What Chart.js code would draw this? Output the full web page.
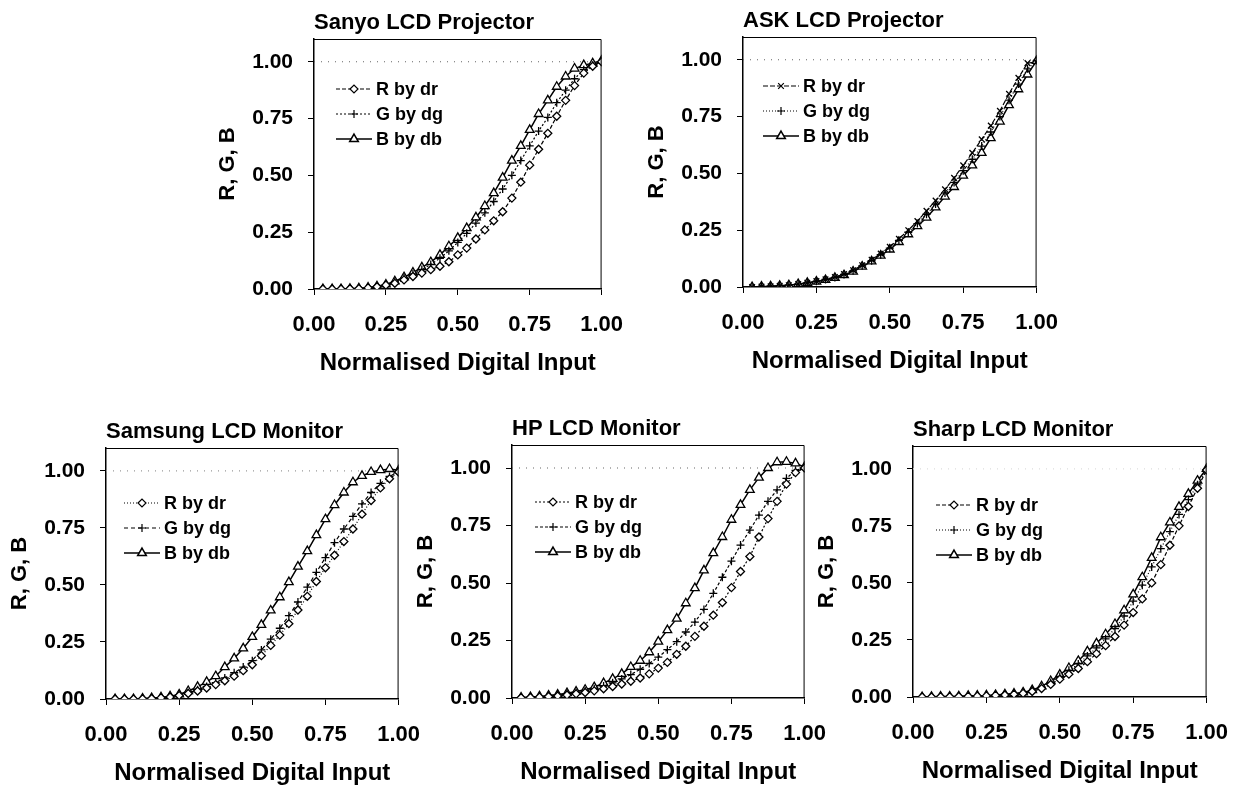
<!DOCTYPE html>
<html lang="en">
<head>
<meta charset="UTF-8">
<title>Display characterisation curves</title>
<script src="https://cdn.jsdelivr.net/npm/chart.js"></script>
<style>
    html, body { margin: 0; padding: 0; background: #fff; overflow: hidden; }
    body { width: 1249px; height: 789px; position: relative; }
    .panel { position: absolute; }
</style>
</head>
<body>
<div id="charts"></div>
<script>
    // normalised digital input (32 levels)
    const inputLevels = [0.031, 0.063, 0.094, 0.125, 0.156, 0.188, 0.219, 0.250, 0.281, 0.313, 0.344, 0.375,
        0.406, 0.438, 0.469, 0.500, 0.531, 0.563, 0.594, 0.625, 0.656, 0.688, 0.719, 0.750,
        0.781, 0.813, 0.844, 0.875, 0.906, 0.938, 0.969, 1.000];
    const tickValues = [0, 0.25, 0.5, 0.75, 1.0];
    const whiteX = [0, 1];
    const whiteLevel = [1, 1];
    const seriesLabels = ['R by dr', 'G by dg', 'B by db'];

    // Sanyo LCD Projector
    const sanyoR = [0, 0, 0, 0.001, 0.002, 0.005, 0.010, 0.017, 0.025, 0.040, 0.055, 0.070, 0.085, 0.100, 0.120, 0.150,
        0.180, 0.220, 0.260, 0.300, 0.340, 0.400, 0.470, 0.545, 0.615, 0.685, 0.760, 0.830, 0.895, 0.950, 0.980, 1.000];
    const sanyoG = [0, 0, 0, 0.001, 0.002, 0.005, 0.011, 0.019, 0.032, 0.048, 0.066, 0.086, 0.108, 0.135, 0.168, 0.205,
        0.245, 0.290, 0.335, 0.385, 0.440, 0.500, 0.565, 0.630, 0.695, 0.755, 0.820, 0.875, 0.925, 0.965, 0.985, 1.000];
    const sanyoB = [0, 0, 0, 0.001, 0.003, 0.006, 0.012, 0.020, 0.034, 0.052, 0.072, 0.095, 0.118, 0.150, 0.188, 0.225,
        0.268, 0.315, 0.365, 0.422, 0.490, 0.565, 0.630, 0.700, 0.770, 0.830, 0.890, 0.935, 0.970, 0.985, 0.993, 1.005];

    // ASK LCD Projector
    const askR = [0, 0.002, 0.003, 0.005, 0.008, 0.013, 0.019, 0.026, 0.034, 0.044, 0.057, 0.074, 0.096, 0.120, 0.147, 0.177,
        0.212, 0.250, 0.290, 0.335, 0.380, 0.430, 0.480, 0.535, 0.590, 0.650, 0.710, 0.775, 0.850, 0.920, 0.985, 0.990];
    const askG = [0, 0.002, 0.003, 0.005, 0.008, 0.013, 0.018, 0.025, 0.033, 0.042, 0.055, 0.071, 0.093, 0.116, 0.142, 0.171,
        0.205, 0.241, 0.279, 0.320, 0.365, 0.414, 0.460, 0.512, 0.562, 0.620, 0.682, 0.750, 0.822, 0.893, 0.960, 0.995];
    const askB = [0, 0.002, 0.003, 0.005, 0.008, 0.013, 0.018, 0.024, 0.031, 0.040, 0.052, 0.068, 0.090, 0.113, 0.138, 0.165,
        0.198, 0.232, 0.268, 0.305, 0.350, 0.398, 0.440, 0.490, 0.535, 0.590, 0.655, 0.728, 0.800, 0.870, 0.935, 0.995];

    // Samsung LCD Monitor
    const samsungR = [0, 0, 0, 0.001, 0.002, 0.005, 0.009, 0.015, 0.024, 0.035, 0.048, 0.063, 0.080, 0.100, 0.124, 0.150,
        0.190, 0.235, 0.280, 0.330, 0.390, 0.450, 0.515, 0.575, 0.630, 0.690, 0.745, 0.810, 0.870, 0.925, 0.965, 0.995];
    const samsungG = [0, 0, 0, 0.001, 0.003, 0.006, 0.010, 0.017, 0.027, 0.040, 0.055, 0.072, 0.092, 0.115, 0.140, 0.168,
        0.215, 0.262, 0.310, 0.365, 0.425, 0.490, 0.555, 0.620, 0.685, 0.745, 0.800, 0.855, 0.905, 0.945, 0.975, 0.998];
    const samsungB = [0, 0, 0, 0.002, 0.004, 0.007, 0.012, 0.020, 0.035, 0.053, 0.075, 0.100, 0.140, 0.178, 0.222, 0.272,
        0.325, 0.388, 0.446, 0.512, 0.580, 0.648, 0.718, 0.788, 0.850, 0.905, 0.950, 0.978, 0.995, 1.003, 1.008, 1.002];

    // HP LCD Monitor
    const hpR = [0.001, 0.002, 0.004, 0.006, 0.009, 0.013, 0.018, 0.024, 0.031, 0.040, 0.050, 0.061, 0.073, 0.087, 0.105, 0.130,
        0.155, 0.190, 0.225, 0.268, 0.312, 0.360, 0.415, 0.480, 0.550, 0.615, 0.700, 0.780, 0.855, 0.930, 0.980, 1.000];
    const hpG = [0.001, 0.003, 0.005, 0.008, 0.012, 0.017, 0.023, 0.030, 0.040, 0.052, 0.066, 0.083, 0.102, 0.125, 0.150, 0.178,
        0.210, 0.245, 0.287, 0.330, 0.385, 0.455, 0.525, 0.595, 0.665, 0.730, 0.795, 0.855, 0.905, 0.955, 0.990, 1.000];
    const hpB = [0.002, 0.004, 0.007, 0.011, 0.015, 0.021, 0.028, 0.036, 0.047, 0.065, 0.083, 0.105, 0.135, 0.162, 0.199, 0.245,
        0.295, 0.345, 0.412, 0.478, 0.555, 0.630, 0.700, 0.775, 0.840, 0.905, 0.958, 1.000, 1.025, 1.027, 1.020, 1.005];

    // Sharp LCD Monitor
    const sharpR = [0, 0, 0.001, 0.001, 0.002, 0.003, 0.004, 0.005, 0.007, 0.009, 0.012, 0.016, 0.024, 0.037, 0.055, 0.078,
        0.100, 0.125, 0.155, 0.190, 0.225, 0.265, 0.315, 0.370, 0.430, 0.500, 0.580, 0.665, 0.750, 0.835, 0.915, 0.995];
    const sharpG = [0, 0.001, 0.001, 0.002, 0.003, 0.004, 0.005, 0.006, 0.008, 0.011, 0.014, 0.019, 0.028, 0.043, 0.064, 0.090,
        0.117, 0.145, 0.180, 0.215, 0.255, 0.300, 0.355, 0.420, 0.490, 0.570, 0.650, 0.725, 0.800, 0.865, 0.930, 0.995];
    const sharpB = [0, 0.001, 0.002, 0.002, 0.003, 0.005, 0.006, 0.007, 0.009, 0.012, 0.015, 0.020, 0.030, 0.047, 0.070, 0.098,
        0.127, 0.158, 0.200, 0.235, 0.275, 0.320, 0.380, 0.450, 0.525, 0.610, 0.700, 0.765, 0.833, 0.890, 0.948, 1.000];

    // layout: plot box in page pixels [left, top, right, bottom], legend offset inside the box
    const LEFTM = 110, TOPM = 38, RIGHTM = 35, BOTM = 95;
    const panels = [
        { title: 'Sanyo LCD Projector', box: [314, 39, 605, 289], leg: [22, 50], refColor: '#666',
          series: [sanyoR, sanyoG, sanyoB],
          styles: [{ dash: [4, 2], point: 'rectRot' }, { dash: [2, 2], point: 'cross' }, { dash: [], point: 'triangle' }] },
        { title: 'ASK LCD Projector', box: [743, 37, 1040, 287], leg: [20, 49], refColor: '#666',
          series: [askR, askG, askB],
          styles: [{ dash: [5, 2], point: 'crossRot' }, { dash: [1, 2], point: 'cross' }, { dash: [], point: 'triangle' }] },
        { title: 'Samsung LCD Monitor', box: [106, 448, 402, 699], leg: [18, 55], refColor: '#999',
          series: [samsungR, samsungG, samsungB],
          styles: [{ dash: [1, 2], point: 'rectRot' }, { dash: [4, 3], point: 'cross' }, { dash: [], point: 'triangle' }] },
        { title: 'HP LCD Monitor', box: [512, 445, 808, 698], leg: [23, 57], refColor: '#666',
          series: [hpR, hpG, hpB],
          styles: [{ dash: [2, 2], point: 'rectRot' }, { dash: [3, 2], point: 'cross' }, { dash: [], point: 'triangle' }] },
        { title: 'Sharp LCD Monitor', box: [913, 446, 1210, 697], leg: [23, 59], refColor: '#ddd',
          series: [sharpR, sharpG, sharpB],
          styles: [{ dash: [4, 2], point: 'rectRot' }, { dash: [1, 2], point: 'cross' }, { dash: [], point: 'triangle' }] }
    ];

    Chart.defaults.font.family = '"Liberation Sans", Arial, Helvetica, sans-serif';
    Chart.defaults.color = '#000';

    // frame round the plot area and a legend drawn inside it
    const frameLegend = {
        id: 'frameLegend',
        afterDatasetsDraw(chart, args, opts) {
            const { ctx, chartArea: a } = chart;
            ctx.save();
            ctx.strokeStyle = '#000';
            ctx.lineWidth = 1;
            ctx.beginPath();
            ctx.moveTo(a.left, a.top + 0.5);
            ctx.lineTo(a.right - 0.5, a.top + 0.5);
            ctx.lineTo(a.right - 0.5, a.bottom);
            ctx.stroke();

            ctx.font = 'bold 18px "Liberation Sans", Arial, sans-serif';
            ctx.textBaseline = 'middle';
            ctx.textAlign = 'left';
            chart.data.datasets.forEach((ds, i) => {
                if (!ds.label) return;
                const y = a.top + opts.y + i * 25;
                const x0 = a.left + opts.x, x1 = x0 + 36;
                ctx.strokeStyle = '#000';
                ctx.lineWidth = ds.borderWidth;
                ctx.setLineDash(ds.borderDash);
                ctx.beginPath();
                ctx.moveTo(x0, y);
                ctx.lineTo(x1, y);
                ctx.stroke();
                ctx.setLineDash([]);
                ctx.fillStyle = '#fff';
                Chart.helpers.drawPoint(ctx, {
                    pointStyle: ds.pointStyle, radius: ds.pointRadius, rotation: 0, borderWidth: ds.pointBorderWidth
                }, (x0 + x1) / 2, y);
                ctx.fillStyle = '#000';
                ctx.fillText(ds.label, x1 + 4, y + 1);
            });
            ctx.restore();
        }
    };

    const holder = document.getElementById('charts');

    panels.forEach(p => {
        const [l, t, r, b] = p.box;
        const w = (r - l) + LEFTM + RIGHTM;
        const h = (b - t) + TOPM + BOTM;
        const div = document.createElement('div');
        div.className = 'panel';
        div.style.left = (l - LEFTM) + 'px';
        div.style.top = (t - TOPM) + 'px';
        const canvas = document.createElement('canvas');
        canvas.width = w;
        canvas.height = h;
        div.appendChild(canvas);
        holder.appendChild(div);

        const datasets = p.series.map((vals, i) => ({
            label: seriesLabels[i],
            data: inputLevels.map((x, k) => ({ x: x, y: vals[k] })),
            borderColor: '#000',
            borderWidth: i === 2 ? 1.5 : 1.2,
            borderDash: p.styles[i].dash,
            pointStyle: p.styles[i].point,
            pointRadius: p.styles[i].point === 'triangle' ? 5 : 4,
            pointBorderColor: '#000',
            pointBackgroundColor: '#fff',
            pointBorderWidth: 1.3,
            tension: 0
        }));
        datasets.push({
            label: '',
            data: whiteX.map((x, k) => ({ x: x, y: whiteLevel[k] })),
            borderColor: p.refColor,
            borderWidth: 1.2,
            borderDash: [1, 6],
            pointRadius: 0,
            order: 10
        });

        const setTicks = s => { s.ticks = tickValues.map(v => ({ value: v })); };

        new Chart(canvas, {
            type: 'line',
            data: { datasets: datasets },
            plugins: [frameLegend],
            options: {
                responsive: false,
                animation: false,
                layout: { padding: { left: 0, top: 0, right: RIGHTM, bottom: 0 } },
                plugins: {
                    legend: { display: false },
                    tooltip: { enabled: false },
                    title: {
                        display: true,
                        text: p.title,
                        align: 'start',
                        fullSize: false,
                        font: { size: 22, weight: 'bold' },
                        padding: { top: 8.8, bottom: 2.8 }
                    },
                    frameLegend: { x: p.leg[0], y: p.leg[1] }
                },
                scales: {
                    x: {
                        type: 'linear',
                        min: 0,
                        max: 1,
                        afterBuildTicks: setTicks,
                        afterFit: s => { s.height = BOTM; },
                        grid: { drawOnChartArea: false, drawTicks: true, tickLength: 6, color: '#000' },
                        border: { display: true, color: '#000', width: 1.5 },
                        ticks: {
                            font: { size: 22, weight: 'bold' },
                            padding: 17,
                            maxRotation: 0,
                            callback: v => v.toFixed(2)
                        },
                        title: {
                            display: true,
                            text: 'Normalised Digital Input',
                            font: { size: 24, weight: 'bold' },
                            padding: { top: 0, bottom: 6 }
                        }
                    },
                    y: {
                        type: 'linear',
                        min: 0,
                        max: 1.1,
                        afterBuildTicks: setTicks,
                        afterFit: s => { s.width = LEFTM; },
                        grid: { drawOnChartArea: false, drawTicks: true, tickLength: 6, color: '#000' },
                        border: { display: true, color: '#000', width: 1.5 },
                        ticks: {
                            font: { size: 21, weight: 'bold' },
                            padding: 15,
                            callback: v => v.toFixed(2)
                        },
                        title: {
                            display: true,
                            text: 'R, G, B',
                            font: { size: 22, weight: 'bold' },
                            padding: { top: 11, bottom: 0 }
                        }
                    }
                }
            }
        });
    });
</script>
</body>
</html>
